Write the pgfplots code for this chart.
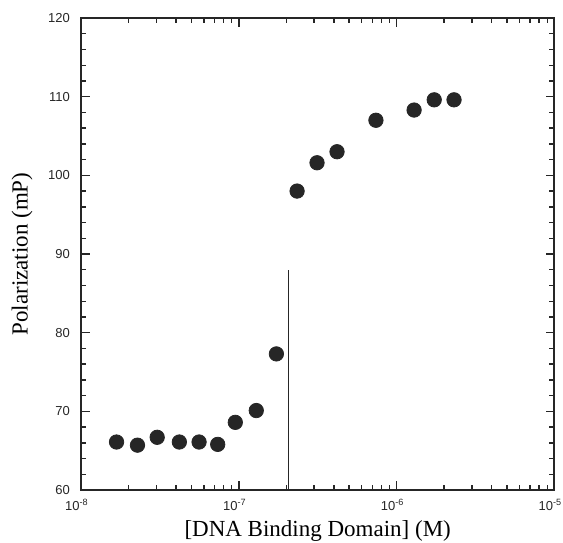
\documentclass[border=0pt]{standalone}
\usepackage{fontspec}
\setmainfont{Liberation Serif}
\newfontfamily\ticksans{Liberation Sans}
\usepackage{pgfplots}
\pgfplotsset{compat=1.18}
\definecolor{ink}{RGB}{38,38,38}

\begin{document}
\begin{tikzpicture}
\path[use as bounding box] (-40.5pt,-26pt) rectangle (241pt,245pt);
\begin{axis}[
    xmode=log,
    scale only axis,
    width=236.75pt, height=236pt,
    xmin=1e-8, xmax=1e-5,
    ymin=60, ymax=120,
    xtick={1e-8,1e-7,1e-6,1e-5},
    xticklabels={10\textsuperscript{-8},10\textsuperscript{-7},10\textsuperscript{-6},10\textsuperscript{-5}},
    ytick={60,70,80,90,100,110,120},
    yticklabels={60,70,80,90,100,110,120},
    minor y tick num=4,
    tick align=inside,
    major tick length=4.5pt,
    minor tick length=2.5pt,
    tick style={line width=0.7pt, color=ink},
    axis line style={line width=1pt, color=ink},
    tick label style={font=\ticksans\fontsize{6.5}{7}\selectfont, text=ink},
    xticklabel style={yshift=-1pt, xshift=-2pt},
    yticklabel style={xshift=-2pt},
    xlabel={[DNA Binding Domain] (M)},
    ylabel={Polarization (mP)},
    label style={font=\fontsize{11.5}{13}\selectfont},
    xlabel style={at={(axis description cs:0.5,0)}, anchor=center, yshift=-20.5pt},
    ylabel style={at={(axis description cs:0,0.5)}, anchor=center, yshift=29.5pt},
]
\addplot[only marks, mark=*, mark size=3.6pt, color=ink, mark options={fill=ink, draw=ink}] coordinates {
    (1.68e-8,66.1) (2.28e-8,65.7) (3.04e-8,66.7) (4.20e-8,66.1)
    (5.60e-8,66.1) (7.35e-8,65.8) (9.5e-8,68.6) (1.29e-7,70.1)
    (1.73e-7,77.3) (2.34e-7,98.0) (3.13e-7,101.6) (4.19e-7,103.0)
    (7.39e-7,107.0) (1.29e-6,108.3) (1.73e-6,109.6) (2.31e-6,109.6)
};
\addplot[color=ink, line width=0.8pt] coordinates {(2.07e-7,60) (2.07e-7,88)};
\end{axis}
\end{tikzpicture}
\end{document}
